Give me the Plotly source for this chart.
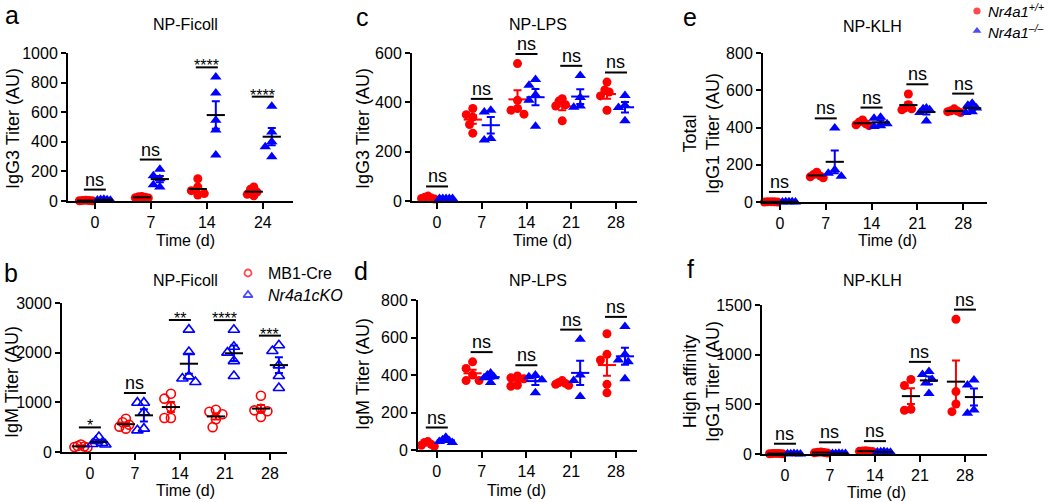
import numpy as np
import plotly.graph_objects as go

W, H = 1049, 502
RED = "#ff0000"
BLUE = "#0000ff"
FONT = "Liberation Sans, Arial, sans-serif"

# ---------------- data ----------------
days_a = ["0", "7", "14", "24"]
days = ["0", "7", "14", "21", "28"]

# a: NP-Ficoll IgG3
igg3_ficoll_wt = [[2, 4, 1, 3, 5], [20, 25, 30, 22, 28], [150, 95, 70, 40, 50],
                  [95, 80, 60, 45, 35]]
igg3_ficoll_ko = [[10, 8, 5, 12, 6], [215, 170, 150, 110, 95], [838, 730, 546, 479, 310],
                  [640, 467, 400, 366, 299]]
sig_a = ["ns", "ns", "****", "****"]

# b: NP-Ficoll IgM (MB1-Cre vs Nr4a1cKO)
igm_ficoll_cre = [[150, 120, 100, 90, 110], [670, 600, 550, 510, 470],
                  [1074, 1174, 906, 685, 685], [850, 810, 760, 660, 500],
                  [1134, 872, 839, 820, 705]]
igm_ficoll_cko = [[300, 220, 180, 160, 150], [993, 993, 800, 436, 470],
                  [2463, 2013, 1523, 1409, 1480], [2460, 2120, 2000, 1830, 1530],
                  [2148, 2034, 1745, 1530, 1289]]
sig_b = ["*", "ns", "**", "****", "***"]

# c: NP-LPS IgG3
igg3_lps_wt = [[12, 10, 8, 15, 20], [375, 350, 340, 310, 275], [557, 408, 375, 352, 368],
               [415, 405, 390, 385, 325], [482, 450, 442, 426, 368]]
igg3_lps_ko = [[10, 10, 10, 10, 10], [368, 361, 247, 253], [493, 469, 431, 408, 303],
               [509, 420, 385, 380], [428, 388, 379, 325]]
sig_c = ["ns", "ns", "ns", "ns", "ns"]

# d: NP-LPS IgM
igm_lps_wt = [[45, 30, 25, 20, 40], [470, 435, 400, 370, 370], [395, 385, 380, 345, 340],
              [370, 360, 355, 350, 345], [620, 510, 480, 350, 305]]
igm_lps_ko = [[68, 55, 50, 45, 40], [410, 400, 390, 385, 360], [400, 390, 375, 305],
              [590, 400, 370, 285], [658, 510, 480, 470, 380]]
sig_d = ["ns", "ns", "ns", "ns", "ns"]

# e: NP-KLH total IgG1
igg1_klh_wt = [[0, 2, 1, 0, 1], [160, 147, 140, 135, 130], [440, 430, 420, 410, 415],
               [580, 522, 505, 495, 500], [500, 490, 485, 480, 488]]
igg1_klh_ko = [[1, 0, 2, 1, 0], [397, 173, 155, 138], [455, 450, 420, 405, 410],
               [505, 500, 495, 480, 435], [530, 520, 505, 485, 480]]
sig_e = ["ns", "ns", "ns", "ns", "ns"]

# f: NP-KLH high affinity IgG1
hi_igg1_klh_wt = [[3, 5, 2, 4, 6], [15, 20, 12, 18, 10], [28, 30, 25, 32, 27],
                  [750, 690, 450, 440], [1356, 628, 503, 426]]
hi_igg1_klh_ko = [[2, 3, 1, 4, 2], [5, 6, 4, 7, 5], [20, 22, 18, 24, 19],
                  [830, 800, 750, 715, 610], [745, 695, 443, 409]]
sig_f = ["ns", "ns", "ns", "ns", "ns"]

# ---------------- panel layout (pixels) ----------------
panels = [
    dict(letter="a", title="NP-Ficoll", ytitle="IgG3 Titer (AU)", cats=days_a,
         wt=igg3_ficoll_wt, ko=igg3_ficoll_ko, sig=sig_a, ymax=1000, dtick=200,
         box=(68, 293, 53, 201), xr=(-0.48, 3.54), openm=False, meancol=None,
         pos=dict(letter=(12, 15), title=(185, 25), xt=(185, 240), yt=(13, 129))),
    dict(letter="b", title="NP-Ficoll", ytitle="IgM Titer (AU)", cats=days,
         wt=igm_ficoll_cre, ko=igm_ficoll_cko, sig=sig_b, ymax=3000, dtick=1000,
         box=(62, 287, 303, 452), xr=(-0.62, 4.38), openm=True, meancol=None,
         pos=dict(letter=(11, 273), title=(185, 280), xt=(185, 490), yt=(12, 382))),
    dict(letter="c", title="NP-LPS", ytitle="IgG3 Titer (AU)", cats=days,
         wt=igg3_lps_wt, ko=igg3_lps_ko, sig=sig_c, ymax=600, dtick=200,
         box=(412, 637, 53, 201), xr=(-0.56, 4.47), openm=False, meancol="group",
         pos=dict(letter=(362, 17), title=(538, 25), xt=(542, 240), yt=(363, 129))),
    dict(letter="d", title="NP-LPS", ytitle="IgM Titer (AU)", cats=days,
         wt=igm_lps_wt, ko=igm_lps_ko, sig=sig_d, ymax=800, dtick=200,
         box=(418, 637, 300, 450), xr=(-0.42, 4.47), openm=False, meancol="group",
         pos=dict(letter=(361, 271), title=(538, 280), xt=(516, 490), yt=(363, 374))),
    dict(letter="e", title="NP-KLH", ytitle="Total<br>IgG1 Titer (AU)", cats=days,
         wt=igg1_klh_wt, ko=igg1_klh_ko, sig=sig_e, ymax=800, dtick=200,
         box=(763, 987, 53, 202), xr=(-0.37, 4.52), openm=False, meancol=None,
         pos=dict(letter=(690, 17), title=(872, 27), xt=(887, 240), yt=(701, 134))),
    dict(letter="f", title="NP-KLH", ytitle="High affinity<br>IgG1 Titer (AU)", cats=days,
         wt=hi_igg1_klh_wt, ko=hi_igg1_klh_ko, sig=sig_f, ymax=1500, dtick=500,
         box=(762, 987, 305, 454), xr=(-0.51, 4.49), openm=False, meancol=None,
         pos=dict(letter=(690, 269), title=(872, 280), xt=(876, 492), yt=(701, 382))),
]


def sem(v):
    v = np.asarray(v, float)
    return v.std(ddof=1) / np.sqrt(len(v))


def swarm(vals, ppu, mind=8.0, step=4.0, cap=6.5):
    # horizontal pixel offsets so overlapping dots spread out a bit
    placed = []
    out = [0.0] * len(vals)
    for idx in np.argsort(vals)[::-1]:
        y = vals[idx] * ppu
        cands = [0.0]
        for j in range(1, 12):
            cands += [-j * step, j * step]
        for c in cands:
            if all((c - px) ** 2 + (y - py) ** 2 >= mind ** 2 for px, py in placed):
                break
        placed.append((c, y))
        out[idx] = c
    m = max(abs(o) for o in out)
    if m > cap:
        out = [o * cap / m for o in out]
    return out


def px(x, y):
    return x / W, 1 - y / H


fig = go.Figure()
annotations = []
shapes = []
axes = {}

for k, p in enumerate(panels, start=1):
    xa = "x" if k == 1 else f"x{k}"
    ya = "y" if k == 1 else f"y{k}"
    x0, x1, ytop, ybot = p["box"]
    xmin, xmax = p["xr"]
    ppu = (ybot - ytop) / p["ymax"]
    ppc = (x1 - x0) / (xmax - xmin)
    goff = 9 / ppc
    n = len(p["cats"])

    groups = [
        (p["wt"], RED, "circle", -1),
        (p["ko"], BLUE, "triangle-up", 1),
    ]
    for vals_list, col, sym, sgn in groups:
        if p["openm"]:
            sym = sym + "-open"
        xs, ys = [], []
        for i, vals in enumerate(vals_list):
            offs = swarm(vals, ppu)
            xs += [i + sgn * goff + o / ppc for o in offs]
            ys += list(vals)
        fig.add_trace(go.Scatter(
            x=xs, y=ys, mode="markers", xaxis=xa, yaxis=ya, showlegend=False,
            cliponaxis=False, hoverinfo="skip",
            marker=dict(symbol=sym, color=col, size=9 if "circle" in sym else 10,
                        line=dict(width=1.6 if p["openm"] else 0, color=col)),
        ))
        means = [float(np.mean(v)) for v in vals_list]
        sems = [float(sem(v)) for v in vals_list]
        mc = col if p["meancol"] == "group" else "black"
        fig.add_trace(go.Scatter(
            x=[i + sgn * goff for i in range(n)], y=means, mode="markers",
            xaxis=xa, yaxis=ya, showlegend=False, cliponaxis=False, hoverinfo="skip",
            marker=dict(symbol="line-ew", size=13, color=mc, line=dict(width=2, color=mc)),
            error_y=dict(type="data", array=sems, color=col, thickness=2, width=4),
        ))

    # significance bars
    hw = 11 / ppc
    for i, s in enumerate(p["sig"]):
        top = max(max(p["wt"][i]), max(p["ko"][i]),
                  np.mean(p["wt"][i]) + sem(p["wt"][i]),
                  np.mean(p["ko"][i]) + sem(p["ko"][i]))
        h = top + 0.065 * p["ymax"]
        shapes.append(dict(type="line", xref=xa, yref=ya, x0=i - hw, x1=i + hw, y0=h, y1=h,
                           line=dict(color="black", width=2)))
        star = s != "ns"
        annotations.append(dict(
            xref=xa, yref=ya, x=i, y=h, text=s, showarrow=False, yanchor="bottom",
            yshift=-9 if star else -2,
            font=dict(family=FONT, size=16 if star else 18, color="black")))

    axes["xaxis" if k == 1 else f"xaxis{k}"] = dict(
        domain=[x0 / W, x1 / W], range=[xmin, xmax], anchor=ya, automargin=False,
        tickvals=list(range(n)), ticktext=p["cats"],
        showline=True, linecolor="black", linewidth=2, ticks="outside",
        ticklen=6, tickwidth=2, tickcolor="black", showgrid=False, zeroline=False,
        tickfont=dict(family=FONT, size=16, color="black"), fixedrange=True)
    axes["yaxis" if k == 1 else f"yaxis{k}"] = dict(
        domain=[1 - ybot / H, 1 - ytop / H], range=[0, p["ymax"]], anchor=xa,
        automargin=False, tick0=0, dtick=p["dtick"],
        showline=True, linecolor="black", linewidth=2, ticks="outside",
        ticklen=5, tickwidth=2, tickcolor="black", showgrid=False, zeroline=False,
        tickfont=dict(family=FONT, size=16, color="black"), fixedrange=True)

    pos = p["pos"]
    lx, ly = px(*pos["letter"])
    annotations.append(dict(xref="paper", yref="paper", x=lx, y=ly, text=p["letter"],
                            showarrow=False, xanchor="center", yanchor="middle",
                            font=dict(family=FONT, size=25, color="black")))
    tx, ty = px(*pos["title"])
    annotations.append(dict(xref="paper", yref="paper", x=tx, y=ty, text=p["title"],
                            showarrow=False, xanchor="center", yanchor="middle",
                            font=dict(family=FONT, size=16, color="black")))
    tx, ty = px(*pos["xt"])
    annotations.append(dict(xref="paper", yref="paper", x=tx, y=ty, text="Time (d)",
                            showarrow=False, xanchor="center", yanchor="middle",
                            font=dict(family=FONT, size=16, color="black")))
    tx, ty = px(*pos["yt"])
    annotations.append(dict(xref="paper", yref="paper", x=tx, y=ty, text=p["ytitle"],
                            showarrow=False, xanchor="center", yanchor="middle",
                            textangle=-90,
                            font=dict(family=FONT, size=18, color="black")))

# legends on a full-page overlay axis (pixel coordinates)
fig.add_trace(go.Scatter(
    x=[248, 248, 977, 977], y=[273, 295, 11, 31], mode="markers", xaxis="x7", yaxis="y7",
    showlegend=False, cliponaxis=False, hoverinfo="skip",
    marker=dict(symbol=["circle-open", "triangle-up-open", "circle", "triangle-up"],
                color=[RED, BLUE, RED, BLUE], size=[7, 8, 9, 11], line=dict(width=1.8)),
))
axes["xaxis7"] = dict(domain=[0, 1], range=[0, W], visible=False, fixedrange=True,
                      automargin=False)
axes["yaxis7"] = dict(domain=[0, 1], range=[H, 0], visible=False, fixedrange=True,
                      automargin=False)

legend_text = [(266, 273, "MB1-Cre", 16), (266, 295, "<i>Nr4a1cKO</i>", 16),
               (986, 11, "<i>Nr4a1<sup>+/+</sup></i>", 15),
               (986, 32, "<i>Nr4a1<sup>\u2013/\u2013</sup></i>", 15)]
for x, y, t, fs in legend_text:
    ax, ay = px(x, y)
    annotations.append(dict(xref="paper", yref="paper", x=ax, y=ay, text=t, showarrow=False,
                            xanchor="left", yanchor="middle",
                            font=dict(family=FONT, size=fs, color="black")))

fig.update_layout(
    template="none",
    width=W, height=H, margin=dict(l=0, r=0, t=0, b=0, autoexpand=False),
    paper_bgcolor="white", plot_bgcolor="rgba(0,0,0,0)",
    font=dict(family=FONT, color="black"),
    annotations=annotations, shapes=shapes, showlegend=False,
    **axes,
)

# page body margin would push the figure 8px; remove it
fig.write_html("out.html", config={"displayModeBar": False},
               post_script="document.body.style.margin='0';")
